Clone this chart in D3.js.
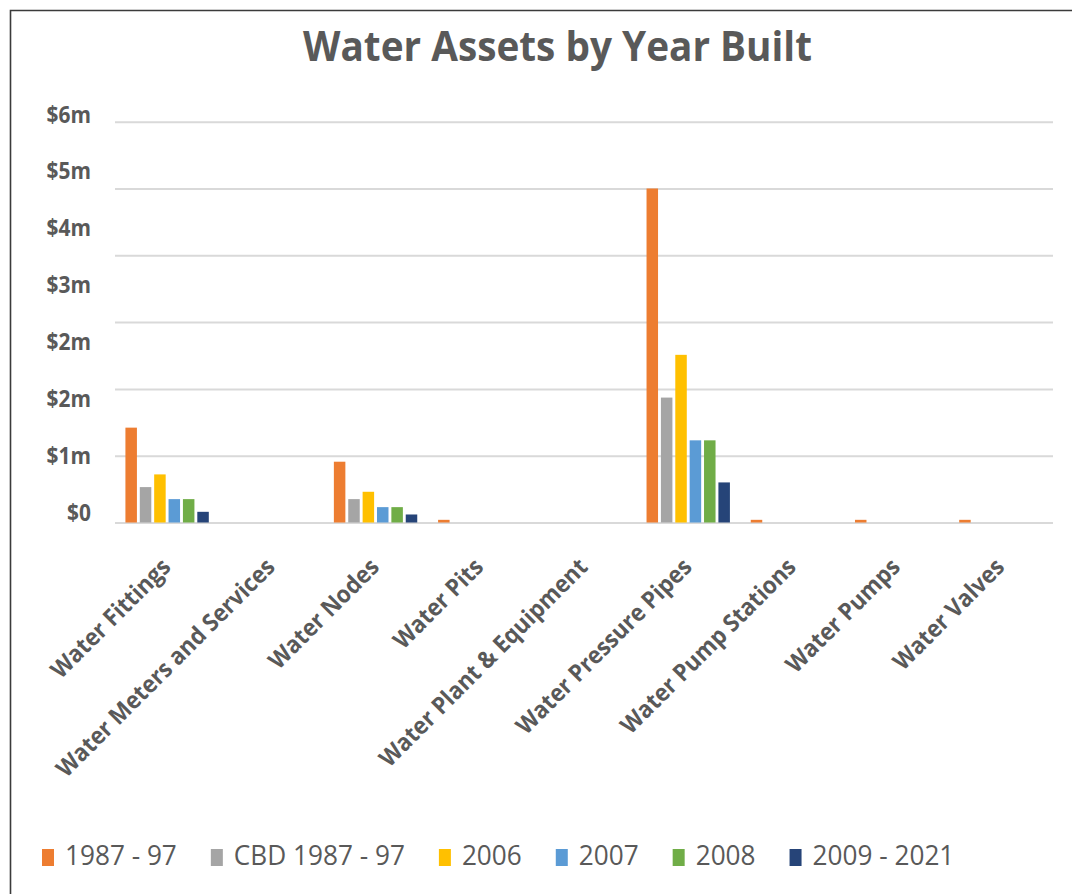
<!DOCTYPE html>
<html>
<head>
<meta charset="utf-8">
<script src="https://cdn.jsdelivr.net/npm/d3@7"></script>
<style>
  body { margin: 0; background: #fff; }
  text { font-family: "Open Sans", "Noto Sans", sans-serif; fill: #595959; }
</style>
</head>
<body>
<svg id="chart"></svg>
<script>
// categories along the x axis
var categories = ["Water Fittings", "Water Meters and Services", "Water Nodes", "Water Pits",
  "Water Plant & Equipment", "Water Pressure Pipes", "Water Pump Stations", "Water Pumps", "Water Valves"];

var seriesNames = ["1987 - 97", "CBD 1987 - 97", "2006", "2007", "2008", "2009 - 2021"];
var seriesColors = ["#ED7D31", "#A5A5A5", "#FFC000", "#5B9BD5", "#70AD47", "#264478"];

// values in $m, one entry per category
var v1987 = [1.42, 0, 0.91, 0.04, 0, 5.00, 0.04, 0.04, 0.04];
var vCBD = [0.53, 0, 0.35, 0, 0, 1.87, 0, 0, 0];
var v2006 = [0.72, 0, 0.46, 0, 0, 2.51, 0, 0, 0];
var v2007 = [0.35, 0, 0.23, 0, 0, 1.23, 0, 0, 0];
var v2008 = [0.35, 0, 0.23, 0, 0, 1.23, 0, 0, 0];
var v2009 = [0.16, 0, 0.12, 0, 0, 0.60, 0, 0, 0];
var seriesValues = [v1987, vCBD, v2006, v2007, v2008, v2009];

// gridlines every $1m, labels as printed on the original (they don't line up with the grid)
var gridValues = [0, 1, 2, 3, 4, 5, 6];
var yLabels = ["$0", "$1m", "$2m", "$2m", "$3m", "$4m", "$5m", "$6m"];

var W = 1072, H = 894;
var svg = d3.select("#chart").attr("width", W).attr("height", H);

svg.append("rect").attr("width", W).attr("height", H).attr("fill", "#fff");
svg.append("path")
  .attr("d", "M10.5," + H + "V10.5H" + W)
  .attr("fill", "none")
  .attr("stroke", "#3b3b3b")
  .attr("stroke-width", 1.6);

// squeeze text a little so Open Sans runs about as narrow as Calibri
function condense(sel, k) {
  sel.each(function () {
    var w = this.getComputedTextLength();
    d3.select(this).attr("textLength", w * k).attr("lengthAdjust", "spacingAndGlyphs");
  });
}

var left = 115, right = 1053;
var x0 = d3.scaleBand().domain(categories).range([left, right]).paddingInner(0.2).paddingOuter(0.1);
var x1 = d3.scaleBand().domain(seriesNames).range([0, x0.bandwidth()]).paddingInner(0.2);
var y = d3.scaleLinear().domain([0, 6]).range([522.5, 121.7]);

// title
svg.append("text")
  .attr("x", 557.5).attr("y", 61)
  .attr("text-anchor", "middle")
  .style("font-size", "42px").style("font-weight", "bold")
  .attr("textLength", 509).attr("lengthAdjust", "spacingAndGlyphs")
  .text("Water Assets by Year Built");

// gridlines
var grid = svg.append("g")
  .attr("transform", "translate(" + left + ",0)")
  .call(d3.axisLeft(y).tickValues(gridValues).tickSize(-(right - left)).tickFormat(""));
grid.select(".domain").remove();
grid.selectAll("line").attr("stroke", "#d9d9d9").attr("stroke-width", 2);

// y labels
var labelY = d3.scalePoint().domain(d3.range(yLabels.length)).range([520.5, 122]);
var yAxis = svg.append("g")
  .attr("transform", "translate(91,0)")
  .call(d3.axisLeft(labelY).tickSize(0).tickPadding(0).tickFormat(function (i) { return yLabels[i]; }));
yAxis.select(".domain").remove();
yAxis.attr("font-size", null).attr("font-family", null);
yAxis.selectAll("text")
  .attr("dy", 0)
  .attr("fill", null)
  .style("font-size", "24px").style("font-weight", "bold")
  .call(condense, 0.87);

// bars
var groups = svg.append("g").selectAll("g")
  .data(categories)
  .enter().append("g")
  .attr("transform", function (d) { return "translate(" + x0(d) + ",0)"; });

groups.selectAll("rect")
  .data(function (d, ci) {
    return seriesNames.map(function (s, si) { return { series: s, i: si, value: seriesValues[si][ci] }; });
  })
  .enter().append("rect")
  .filter(function (d) { return d.value > 0; })
  .attr("x", function (d) { return x1(d.series); })
  .attr("width", x1.bandwidth())
  .attr("y", function (d) { return y(d.value); })
  .attr("height", function (d) { return y(0) - y(d.value); })
  .attr("fill", function (d) { return seriesColors[d.i]; });

// category labels
var xAxis = svg.append("g")
  .attr("transform", "translate(0," + y(0) + ")")
  .call(d3.axisBottom(x0).tickSize(0).tickPadding(0));
xAxis.select(".domain").remove();
xAxis.attr("font-size", null).attr("font-family", null);
xAxis.selectAll("text")
  .attr("y", 0).attr("dy", 0)
  .attr("fill", null)
  .attr("text-anchor", "end")
  .attr("transform", "translate(5,46) rotate(-45)")
  .style("font-size", "24px").style("font-weight", "bold")
  .call(condense, 0.93);

// legend
var legend = svg.append("g");
var lx = 42;
seriesNames.forEach(function (name, i) {
  legend.append("rect")
    .attr("x", lx).attr("y", 849)
    .attr("width", 12).attr("height", 17)
    .attr("fill", seriesColors[i]);
  var t = legend.append("text")
    .attr("x", lx + 23).attr("y", 865)
    .style("font-size", "28px")
    .text(name)
    .call(condense, 0.935);
  lx = lx + 23 + +t.attr("textLength") + 34;
});
</script>
</body>
</html>
